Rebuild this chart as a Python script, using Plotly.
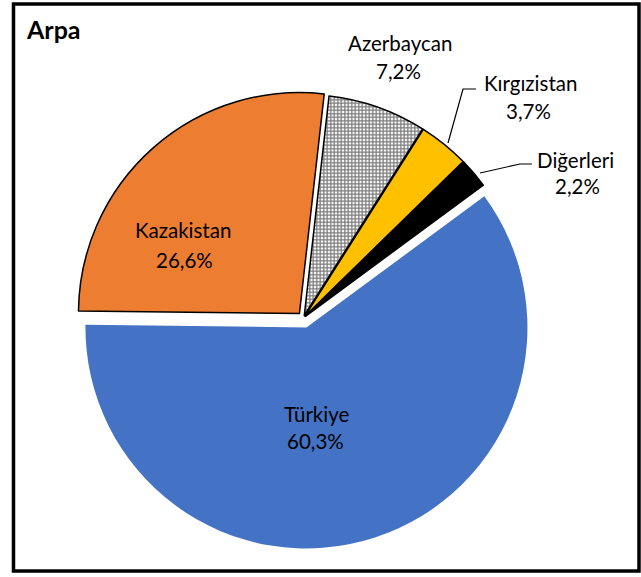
import plotly.graph_objects as go

# ---- data ----
title = "Arpa"
countries = ["Türkiye", "Kazakistan", "Azerbaycan", "Kırgızistan", "Diğerleri"]
shares = [60.3, 26.6, 7.2, 3.7, 2.2]

# ---- style ----
W, H = 641, 577
colors = ["#4472C4", "#ED7D31", "#FFFFFF", "#FFC000", "#000000"]
pulls = [0.045, 0.027, 0.012, 0.012, 0.012]
line_widths = [0, 1.5, 1.5, 1.5, 1.5]
shapes_pattern = ["", "", "+", "", ""]
FONT = "Lato"

def px(x):
    return x / W

def py(y):
    return 1 - y / H

# pie geometry (pixels)
cx, cy, r = 303.4, 318.0, 221.0
half = r * (1 + max(pulls))

fig = go.Figure(go.Pie(
    labels=countries,
    values=shares,
    sort=False,
    direction="clockwise",
    rotation=53.6,
    pull=pulls,
    textinfo="none",
    hoverinfo="label+percent",
    showlegend=False,
    marker=dict(
        colors=colors,
        line=dict(color="black", width=line_widths),
        pattern=dict(shape=shapes_pattern, fgcolor="black", bgcolor="white",
                     size=3.5, solidity=0.62, fillmode="overlay"),
    ),
    domain=dict(x=[px(cx - half), px(cx + half)], y=[py(cy + half), py(cy - half)]),
))

# label placement (pixel centers of name line and percent line)
label_pos = {
    "Türkiye": ((316, 414), (315, 441)),
    "Kazakistan": ((183, 230), (184, 260)),
    "Azerbaycan": ((400, 43), (399, 71)),
    "Kırgızistan": ((530, 83), (528, 111)),
    "Diğerleri": ((575, 160), (577, 186)),
}

annotations = []
for name, val in zip(countries, shares):
    (nx, ny), (vx, vy) = label_pos[name]
    pct = f"{val:.1f}%".replace(".", ",")
    for (tx, ty), txt in (((nx, ny), name), ((vx, vy), pct)):
        annotations.append(dict(
            x=px(tx), y=py(ty), xref="paper", yref="paper",
            text=txt, showarrow=False, xanchor="center", yanchor="middle",
            font=dict(family=FONT, size=20.5, color="black"),
        ))

annotations.append(dict(
    x=px(24), y=py(29), xref="paper", yref="paper", text=f"<b>{title}</b>",
    showarrow=False, xanchor="left", yanchor="middle",
    font=dict(family=FONT, size=25, color="black"),
))

def path(points):
    d = "M " + " L ".join(f"{px(x)} {py(y)}" for x, y in points)
    return d

shapes = [
    dict(type="rect", xref="paper", yref="paper",
         x0=px(13.5), x1=px(639), y0=py(571), y1=py(4),
         line=dict(color="black", width=3.5), fillcolor="rgba(0,0,0,0)"),
    dict(type="path", xref="paper", yref="paper",
         path=path([(448, 143), (463, 89), (476, 89)]),
         line=dict(color="black", width=1.2)),
    dict(type="path", xref="paper", yref="paper",
         path=path([(480, 173), (520, 164), (532, 164)]),
         line=dict(color="black", width=1.2)),
]

fig.update_layout(
    width=W, height=H,
    margin=dict(l=0, r=0, t=0, b=0),
    paper_bgcolor="white", plot_bgcolor="white",
    annotations=annotations,
    shapes=shapes,
    font=dict(family=FONT),
)

fig.write_html(
    "out.html",
    config={"displayModeBar": False},
    post_script="document.body.style.margin='0';document.body.style.padding='0';document.body.style.overflow='hidden';",
)
